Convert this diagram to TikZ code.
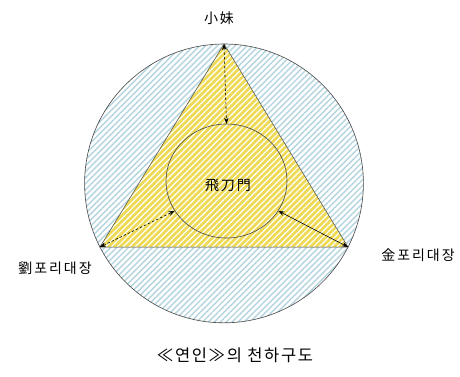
\documentclass[tikz,border=0pt]{standalone}
\usepackage{fontspec}
\setmainfont{Noto Sans CJK KR}
\usetikzlibrary{patterns.meta,arrows.meta,shapes.geometric}
\definecolor{hatchblue}{RGB}{180,212,224}
\definecolor{triyellow}{RGB}{238,218,85}
\definecolor{edgegray}{RGB}{70,70,70}
\begin{document}
\begin{tikzpicture}[x=1pt,y=-1pt,
  lbl/.style={inner sep=0pt, font=\fontsize{14}{16}\selectfont\addfontfeatures{LetterSpace=14}},
  captionstyle/.style={inner sep=0pt, font=\fontsize{16.5}{19}\selectfont\addfontfeatures{LetterSpace=10}},
  arr/.style={{Stealth[length=6pt,width=4.5pt]}-{Stealth[length=6pt,width=4.5pt]}, line width=0.6pt, black},
  dashedarr/.style={arr, dash pattern=on 2.5pt off 2pt}]
\useasboundingbox (0,0) rectangle (460,376);
% outer circle
\coordinate (C) at (224,183.4);
\fill[white] (C) circle[radius=139.4];
\fill[pattern={Lines[angle=45,distance=4.2pt,line width=1.4pt]}, pattern color=hatchblue] (C) circle[radius=139.4];
\draw[edgegray, line width=0.6pt] (C) circle[radius=139.4];
% triangle
\coordinate (T) at (224,44);
\coordinate (L) at (100,247);
\coordinate (R) at (348,247);
\fill[triyellow] (T) -- (L) -- (R) -- cycle;
\fill[pattern={Lines[angle=45,distance=4.2pt,line width=1.2pt]}, pattern color=white] (T) -- (L) -- (R) -- cycle;
\draw[edgegray, line width=0.5pt] (T) -- (L) -- (R) -- cycle;
% inner circle
\node[ellipse, draw=edgegray, line width=0.6pt, minimum width=121pt, minimum height=114pt, inner sep=0pt] (gate) at (226.5,181) {};
\node[lbl] (gatetext) at (228,185) {飛刀門};
% arrows
\draw[dashedarr] (T) -- (gate.north);
\draw[dashedarr] (L) -- (gate.210);
\draw[arr] (R) -- (gate.330);
% labels
\node[lbl] (sister) at (219,18) {小妹};
\node[lbl] (liu) at (55,268) {劉포리대장};
\node[lbl] (kim) at (418,255) {金포리대장};
\node[captionstyle] (caption) at (235,355) {≪연인≫의 천하구도};
\end{tikzpicture}
\end{document}
